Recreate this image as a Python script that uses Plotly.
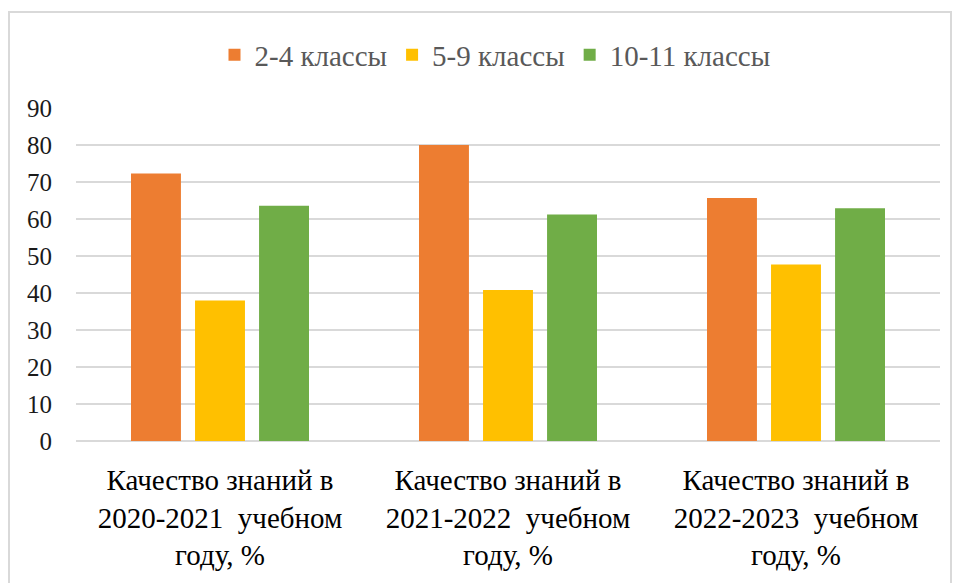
import plotly.graph_objects as go

categories = [
    "Качество знаний в<br>2020-2021  учебном<br>году, %",
    "Качество знаний в<br>2021-2022  учебном<br>году, %",
    "Качество знаний в<br>2022-2023  учебном<br>году, %",
]
series_names = ["2-4 классы", "5-9 классы", "10-11 классы"]
values_2_4 = [72.3, 80.0, 65.7]
values_5_9 = [38.0, 40.8, 47.7]
values_10_11 = [63.6, 61.2, 62.9]
colors = ["#ED7D31", "#FFC000", "#70AD47"]
yticks = [0, 10, 20, 30, 40, 50, 60, 70, 80, 90]

fig = go.Figure()
for name, vals, c in zip(series_names, [values_2_4, values_5_9, values_10_11], colors):
    fig.add_trace(go.Bar(name=name, x=categories, y=vals, marker=dict(color=c, line=dict(width=0))))

W, H = 958, 583
ml, mr, mt, mb = 76, 18, 108, 142
pw, ph = W - ml - mr, H - mt - mb

fig.update_layout(
    width=W, height=H,
    margin=dict(l=ml, r=mr, t=mt, b=mb),
    font=dict(family="Times New Roman", size=24),
    paper_bgcolor="white", plot_bgcolor="white",
    barmode="group", bargap=0.333, bargroupgap=0.22,
    legend=dict(orientation="h", x=(495 - ml) / pw, xanchor="center",
                y=1 + (mt - 55) / ph, yanchor="middle",
                font=dict(family="Liberation Serif, serif", size=29, color="#595959"),
                traceorder="normal"),
    xaxis=dict(tickfont=dict(family="Liberation Serif, serif", size=29, color="#000000"),
               showline=False, showgrid=False,
               ticks="outside", ticklen=13, tickcolor="rgba(0,0,0,0)", automargin=False),
    yaxis=dict(range=[0, 90], tickvals=yticks, showgrid=True, gridcolor="#D9D9D9", showline=False,
               gridwidth=1.5, zeroline=True, zerolinecolor="#D9D9D9", zerolinewidth=1.5,
               tickfont=dict(family="Liberation Serif, serif", size=25, color="#1a1a1a"),
               ticks="outside", ticklen=18, tickcolor="rgba(0,0,0,0)", automargin=False),
    shapes=[dict(type="rect", xref="paper", yref="paper",
                 x0=(9 - ml) / pw, x1=(951 - ml) / pw,
                 y0=-(H - mt) / ph - 0.1, y1=1 + (mt - 12) / ph,
                 line=dict(color="#D9D9D9", width=2), fillcolor="rgba(0,0,0,0)", layer="below")],
)

post = (
    "document.body.style.margin='0';"
    "var s=document.createElement('style');"
    "s.textContent='svg text{font-family:\"Liberation Serif\",\"Times New Roman\",serif !important;}';"
    "document.head.appendChild(s);"
)
fig.write_html("out.html", post_script=post, config={"displayModeBar": False})
